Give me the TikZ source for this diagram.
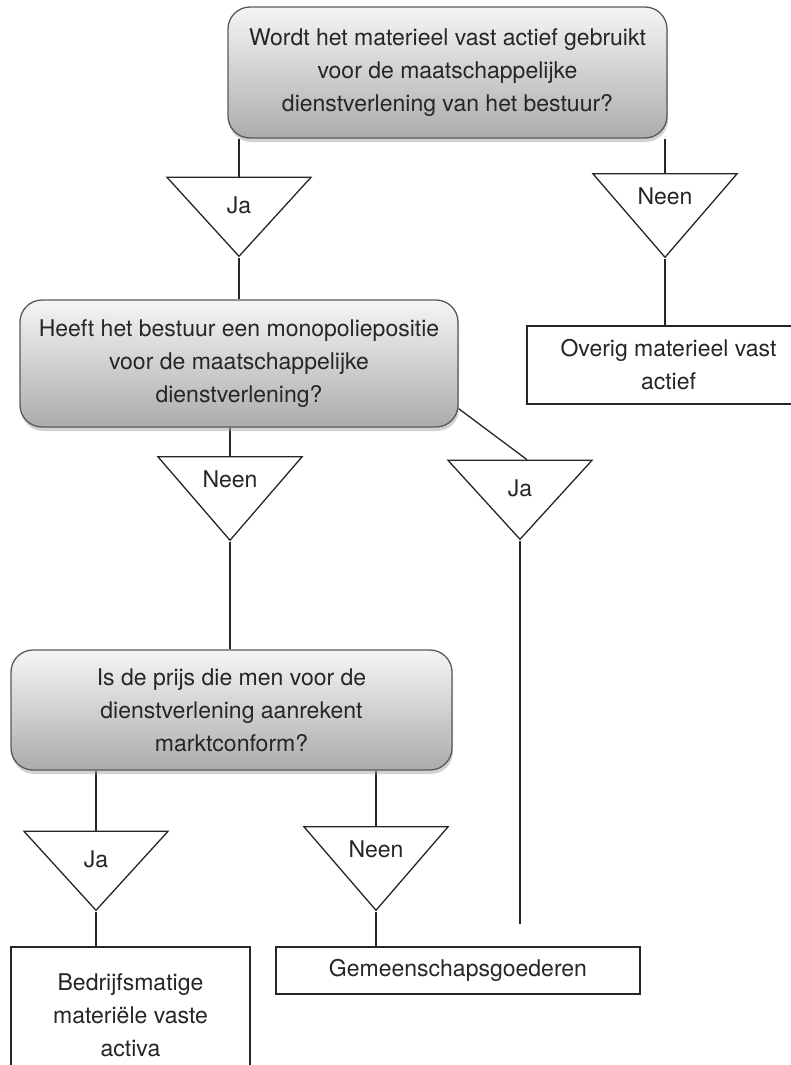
\documentclass[tikz,border=0pt]{standalone}
\usepackage{fontspec}
\setmainfont{TeX Gyre Heros}
\usetikzlibrary{shapes.geometric,shadows,backgrounds}

\begin{document}
\begin{tikzpicture}[x=1pt, y=-1pt,
			font=\fontsize{23}{33}\selectfont,
			vraag/.style={draw=black!65, line width=1.3pt, rounded corners=22pt,
				align=center, text=black!85, top color=gray!8, bottom color=gray!65,
				drop shadow={shadow xshift=1pt, shadow yshift=-4pt, fill=gray!70, opacity=.5}},
			keuze/.style={draw=black!85, line width=1.3pt, isosceles triangle,
				shape border rotate=270, isosceles triangle stretches,
				minimum width=144pt, minimum height=79pt, inner sep=0pt, fill=white, text=black!85},
			uitkomst/.style={draw=black!85, line width=1.3pt, align=center, fill=white, text=black!85},
			lijn/.style={draw=black!85, line width=1.3pt}
			]
			
			\useasboundingbox (0,0) rectangle (791,1065);
			
			% Vragen
			\node[vraag, minimum width=439pt, minimum height=131pt] (vraag1) at (447.5,72.5)
				{Wordt het materieel vast actief gebruikt\\voor de maatschappelijke\\dienstverlening van het bestuur?};
			\node[vraag, minimum width=438pt, minimum height=127pt] (vraag2) at (239,363.5)
				{Heeft het bestuur een monopoliepositie\\voor de maatschappelijke\\dienstverlening?};
			\node[vraag, minimum width=441pt, minimum height=120pt] (vraag3) at (231.5,710)
				{Is de prijs die men voor de\\dienstverlening aanrekent\\marktconform?};
			
			% Antwoorden
			\node[keuze, anchor=apex] (ja1) at (239,258) {Ja};
			\node[keuze, anchor=apex] (neen1) at (665,259) {Neen};
			\node[keuze, anchor=apex] (neen2) at (230,542) {Neen};
			\node[keuze, anchor=apex] (ja2) at (520,541) {Ja};
			\node[keuze, anchor=apex] (ja3) at (96,912) {Ja};
			\node[keuze, anchor=apex] (neen3) at (376,912) {Neen};
			
			% Uitkomsten
			\node[uitkomst, minimum width=283pt, minimum height=78pt] (overig) at (668.5,365)
				{Overig materieel vast\\actief};
			\node[uitkomst, minimum width=239pt, minimum height=136pt] (bedrijf) at (130.5,1015)
				{Bedrijfsmatige\\materiële vaste\\activa};
			\node[uitkomst, minimum width=364pt, minimum height=47pt] (gemeen) at (458,970.5)
				{Gemeenschapsgoederen};
			
			% Verbindingen
			\begin{scope}[on background layer]
				\draw[lijn] (ja1.lower side |- vraag1.south) -- (ja1.lower side);
				\draw[lijn] (neen1.lower side |- vraag1.south) -- (neen1.lower side);
				\draw[lijn] (ja1.apex) -- (ja1.apex |- vraag2.north);
				\draw[lijn] (neen1.apex) -- (neen1.apex |- overig.north);
				\draw[lijn] (neen2.lower side |- vraag2.south) -- (neen2.lower side);
				\draw[lijn] ([yshift=19pt]vraag2.south east) -- ([xshift=7pt]ja2.lower side);
				\draw[lijn] (neen2.apex) -- (neen2.apex |- vraag3.north);
				\draw[lijn] (ja2.apex) -- ([yshift=22pt]ja2.apex |- gemeen.north);
				\draw[lijn] (ja3.lower side |- vraag3.south) -- (ja3.lower side);
				\draw[lijn] (neen3.lower side |- vraag3.south) -- (neen3.lower side);
				\draw[lijn] (ja3.apex) -- (ja3.apex |- bedrijf.north);
				\draw[lijn] (neen3.apex) -- (neen3.apex |- gemeen.north);
			\end{scope}
			
		\end{tikzpicture}
\end{document}
